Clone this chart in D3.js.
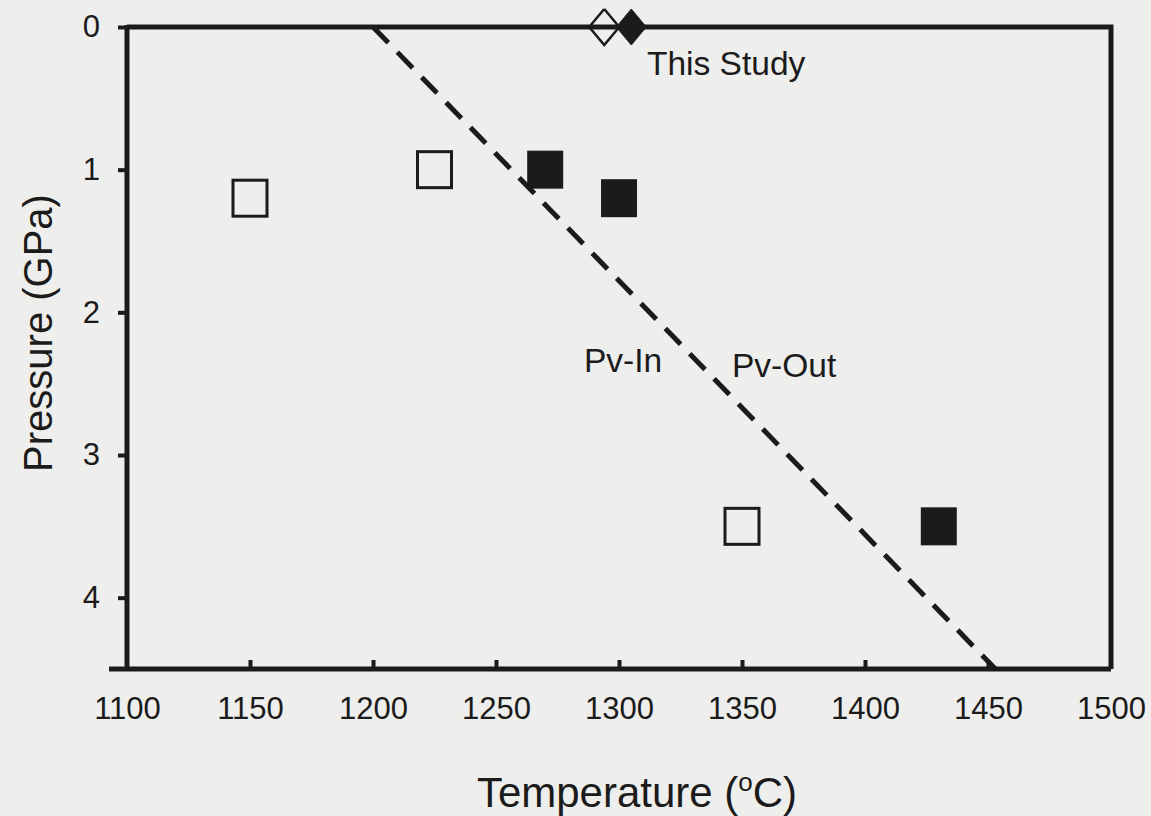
<!DOCTYPE html>
<html>
<head>
<meta charset="utf-8">
<script src="https://cdn.jsdelivr.net/npm/d3@7"></script>
<style>
  html, body { margin: 0; padding: 0; background: #eeeeec; }
  svg { display: block; font-family: "Liberation Sans", Arial, sans-serif; }
</style>
</head>
<body>
<div id="chart"></div>
<script>
const W = 1151, H = 816;

// data
const xTicks = [1100, 1150, 1200, 1250, 1300, 1350, 1400, 1450, 1500];
const yTicks = [0, 1, 2, 3, 4];
const openSqT = [1150, 1225, 1350];
const openSqP = [1.2, 1.0, 3.5];
const fillSqT = [1270, 1300, 1430];
const fillSqP = [1.0, 1.2, 3.5];
const studyT = [1294, 1305];      // open, filled diamond
const studyP = [0, 0];
const boundaryT = [1200, 1453];   // Pv-In / Pv-Out boundary
const boundaryP = [0, 4.5];

const margin = {left: 127, right: 40, top: 27, bottom: 147};

const x = d3.scaleLinear().domain([1100, 1500]).range([margin.left, W - margin.right]);
const y = d3.scaleLinear().domain([0, 4.5]).range([margin.top, H - margin.bottom]);

const svg = d3.select("#chart").append("svg")
    .attr("width", W).attr("height", H);

const ink = "#1b1b1b";

svg.append("defs").append("clipPath").attr("id", "plot")
    .append("rect")
    .attr("x", x(1100)).attr("y", y(0))
    .attr("width", x(1500) - x(1100)).attr("height", y(4.5) - y(0));

// dashed boundary line
const line = d3.line().x(d => x(d[0])).y(d => y(d[1]));
svg.append("path")
    .datum(d3.zip(boundaryT, boundaryP))
    .attr("d", line)
    .attr("fill", "none")
    .attr("stroke", ink)
    .attr("stroke-width", 5)
    .attr("stroke-dasharray", "22,13");

// small open marker at the end of the line, cut by the axis
svg.append("path")
    .attr("clip-path", "url(#plot)")
    .attr("d", d3.line()([[0, -13], [9, 0], [0, 13], [-9, 0], [0, -13]]))
    .attr("transform", "translate(" + x(boundaryT[1]) + "," + y(boundaryP[1]) + ")")
    .attr("fill", "none").attr("stroke", ink).attr("stroke-width", 3);

// frame (top and right)
svg.append("path")
    .attr("d", "M" + x(1100) + "," + y(0) + "H" + x(1500) + "V" + y(4.5))
    .attr("fill", "none").attr("stroke", ink).attr("stroke-width", 5);

// axes
const xAxis = d3.axisBottom(x).tickValues(xTicks).tickFormat(d3.format("d"))
    .tickSize(-9).tickSizeOuter(0).tickPadding(28);
const gx = svg.append("g").attr("transform", "translate(0," + y(4.5) + ")").call(xAxis);
const yAxis = d3.axisLeft(y).tickValues(yTicks).tickFormat(d3.format("d"))
    .tickSize(9).tickSizeOuter(0).tickPadding(18);
const gy = svg.append("g").attr("transform", "translate(" + x(1100) + ",0)").call(yAxis);

[gx, gy].forEach(g => {
  g.select(".domain").attr("stroke", ink).attr("stroke-width", 5);
  g.selectAll(".tick line").attr("stroke", ink).attr("stroke-width", 4);
  g.selectAll(".tick text")
      .attr("fill", ink)
      .style("font-size", "31px")
      .style("font-family", "'Liberation Sans', Arial, sans-serif");
});
// extend the bottom axis line a little to the left
gx.select(".domain").attr("d", "M" + (x(1100) - 18) + ",0H" + x(1500));
gy.select(".domain").attr("d", "M0," + (y(0) - 2) + "V" + y(4.5));
gy.selectAll(".tick line").attr("x1", -2);
gx.selectAll(".tick").filter(d => d === 1500 || d === 1100).select("line").remove();

// open squares
const sqW = 34, sqH = 36;
svg.append("g").selectAll("rect")
    .data(d3.zip(openSqT, openSqP))
    .join("rect")
    .attr("x", d => x(d[0]) - sqW / 2)
    .attr("y", d => y(d[1]) - sqH / 2)
    .attr("width", sqW).attr("height", sqH)
    .attr("fill", "none").attr("stroke", ink).attr("stroke-width", 3);

// filled squares
svg.append("g").selectAll("rect")
    .data(d3.zip(fillSqT, fillSqP))
    .join("rect")
    .attr("x", d => x(d[0]) - sqW / 2 - 1)
    .attr("y", d => y(d[1]) - sqH / 2 - 1)
    .attr("width", sqW + 2).attr("height", sqH + 2)
    .attr("fill", ink);

// this study diamonds
const diamond = d3.line()([[0, -18], [15, 0], [0, 18], [-15, 0], [0, -18]]);
svg.append("g").selectAll("path")
    .data(d3.zip(studyT, studyP))
    .join("path")
    .attr("d", diamond)
    .attr("transform", d => "translate(" + x(d[0]) + "," + y(d[1]) + ")")
    .attr("fill", (d, i) => i === 0 ? "none" : ink)
    .attr("stroke", ink).attr("stroke-width", (d, i) => i === 0 ? 2.5 : 1);

// labels
const label = (txt, tx, ty, size) => svg.append("text")
    .attr("x", tx).attr("y", ty)
    .attr("fill", ink)
    .style("font-size", size + "px")
    .text(txt);

label("This Study", 647, 75, 33.5);
label("Pv-In", 584, 372, 33.5);
label("Pv-Out", 732, 377, 33.5);

// axis titles
const xt = svg.append("text")
    .attr("x", 637).attr("y", 807)
    .attr("text-anchor", "middle")
    .attr("fill", ink)
    .style("font-size", "42px");
xt.append("tspan").text("Temperature (");
xt.append("tspan").text("o").attr("dy", -16).style("font-size", "26px");
xt.append("tspan").text("C)").attr("dy", 16);

svg.append("text")
    .attr("transform", "translate(52,333) rotate(-90)")
    .attr("text-anchor", "middle")
    .attr("fill", ink)
    .style("font-size", "40px")
    .text("Pressure (GPa)");
</script>
</body>
</html>
